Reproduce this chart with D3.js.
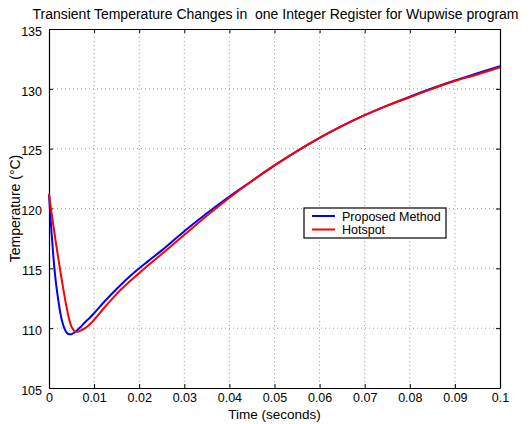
<!DOCTYPE html>
<style>
body { margin: 0; background: #fff; }
text { font-family: "Liberation Sans", Arial, sans-serif; fill: #000; white-space: pre; }
</style>
<body></body>
<script src="https://d3js.org/d3.v7.min.js"></script>
<script>
const title = 'Transient Temperature Changes in  one Integer Register for Wupwise program'
const xTicks = [0, 0.01, 0.02, 0.03, 0.04, 0.05, 0.06, 0.07, 0.08, 0.09, 0.1]
const yTicks = [105, 110, 115, 120, 125, 130, 135]

// time (s), temperature (C)
const proposedTime = [0, 0.0003, 0.0006, 0.0009, 0.0012, 0.0016, 0.002, 0.0025, 0.003, 0.0035, 0.004, 0.0045, 0.005, 0.0055, 0.006, 0.007, 0.008, 0.009, 0.01, 0.012, 0.014, 0.016, 0.018, 0.02, 0.022, 0.025, 0.03, 0.035, 0.04, 0.045, 0.05, 0.055, 0.06, 0.065, 0.07, 0.075, 0.08, 0.085, 0.09, 0.095, 0.1]
const proposedTemp = [121.2, 119.4, 117.8, 116.3, 115.0, 113.6, 112.5, 111.3, 110.45, 109.9, 109.6, 109.5, 109.5, 109.6, 109.75, 110.1, 110.5, 110.85, 111.25, 112.1, 112.9, 113.65, 114.35, 115.0, 115.6, 116.5, 118.1, 119.6, 121.0, 122.3, 123.6, 124.8, 125.9, 126.9, 127.8, 128.6, 129.35, 130.05, 130.7, 131.3, 131.9]

const hotspotTime = [0, 0.0005, 0.001, 0.0015, 0.002, 0.0025, 0.003, 0.0035, 0.004, 0.0045, 0.005, 0.0055, 0.006, 0.0065, 0.007, 0.008, 0.009, 0.01, 0.012, 0.014, 0.016, 0.018, 0.02, 0.022, 0.025, 0.03, 0.035, 0.04, 0.045, 0.05, 0.055, 0.06, 0.065, 0.07, 0.075, 0.08, 0.085, 0.09, 0.095, 0.1]
const hotspotTemp = [121.2, 119.8, 118.5, 117.2, 116.0, 114.8, 113.65, 112.55, 111.55, 110.7, 110.1, 109.82, 109.7, 109.72, 109.8, 110.0, 110.3, 110.7, 111.6, 112.45, 113.25, 113.95, 114.6, 115.25, 116.2, 117.8, 119.4, 120.9, 122.3, 123.6, 124.8, 125.9, 126.9, 127.8, 128.6, 129.3, 130.0, 130.65, 131.2, 131.8]

const series = [
    { name: 'Proposed Method', color: '#0000ff', t: proposedTime, v: proposedTemp },
    { name: 'Hotspot', color: '#ff0000', t: hotspotTime, v: hotspotTemp }
]

const W = 530, H = 424
const m = { left: 49, right: 30, top: 29, bottom: 36 }
const iw = W - m.left - m.right
const ih = H - m.top - m.bottom

const svg = d3.select('body').append('svg')
    .attr('width', W).attr('height', H)

const g = svg.append('g').attr('transform', `translate(${m.left},${m.top})`)

const x = d3.scaleLinear().domain([0, 0.1]).range([0, iw])
const y = d3.scaleLinear().domain([105, 135]).range([ih, 0])

// dotted grid
g.append('g').selectAll('line').data(xTicks.slice(1, -1)).join('line')
    .attr('x1', d => x(d)).attr('x2', d => x(d))
    .attr('y1', 0).attr('y2', ih)
    .attr('stroke', '#888').attr('stroke-width', 0.8).attr('stroke-dasharray', '1,3')
g.append('g').selectAll('line').data(yTicks.slice(1, -1)).join('line')
    .attr('y1', d => y(d)).attr('y2', d => y(d))
    .attr('x1', 0).attr('x2', iw)
    .attr('stroke', '#888').attr('stroke-width', 0.8).attr('stroke-dasharray', '1,3')

// axes, matlab style with inward ticks on all four sides
const fmtX = d => d === 0 ? '0' : d3.format('.2~f')(d)
const bottom = g.append('g').attr('transform', `translate(0,${ih})`)
    .call(d3.axisBottom(x).tickValues(xTicks).tickFormat(fmtX).tickSizeInner(-4).tickSizeOuter(0).tickPadding(5))
const left = g.append('g')
    .call(d3.axisLeft(y).tickValues(yTicks).tickSizeInner(-4).tickSizeOuter(0).tickPadding(7))
g.append('g').call(d3.axisTop(x).tickValues(xTicks).tickFormat('').tickSizeInner(-4).tickSizeOuter(0))
g.append('g').attr('transform', `translate(${iw},0)`)
    .call(d3.axisRight(y).tickValues(yTicks).tickFormat('').tickSizeInner(-4).tickSizeOuter(0))
g.selectAll('.domain').attr('stroke', '#000').attr('stroke-width', 1.2)
g.selectAll('.tick line').attr('stroke', '#000')
g.selectAll('.tick text').attr('font-size', 12.5).attr('font-family', '"Liberation Sans", Arial, sans-serif')
left.selectAll('.tick text').attr('dy', '0.5em')

// curves
const line = d3.line().x(d => x(d[0])).y(d => y(d[1])).curve(d3.curveMonotoneX)
series.forEach(s => {
    g.append('path')
        .datum(s.t.map((t, i) => [t, s.v[i]]))
        .attr('d', line)
        .attr('fill', 'none')
        .attr('stroke', s.color)
        .attr('stroke-width', 2)
})

// title and labels
svg.append('text').attr('x', m.left + iw / 2 + 1).attr('y', 19)
    .attr('text-anchor', 'middle').attr('font-size', 14).text(title)
svg.append('text').attr('x', m.left + iw / 2).attr('y', 419)
    .attr('text-anchor', 'middle').attr('font-size', 13.5).text('Time (seconds)')
svg.append('text').attr('transform', `translate(20,${m.top + ih / 2}) rotate(-90)`)
    .attr('text-anchor', 'middle').attr('font-size', 14).text('Temperature (°C)')

// legend
const lg = svg.append('g').attr('transform', 'translate(304,208)')
lg.append('rect').attr('width', 142).attr('height', 30)
    .attr('fill', '#fff').attr('stroke', '#000').attr('stroke-width', 1.2)
series.forEach((s, i) => {
    const yy = 8 + i * 13.5
    lg.append('line').attr('x1', 8).attr('x2', 31).attr('y1', yy).attr('y2', yy)
        .attr('stroke', s.color).attr('stroke-width', 2)
    lg.append('text').attr('x', 38).attr('y', yy + 4.5).attr('font-size', 12.5).text(s.name)
})
</script>
